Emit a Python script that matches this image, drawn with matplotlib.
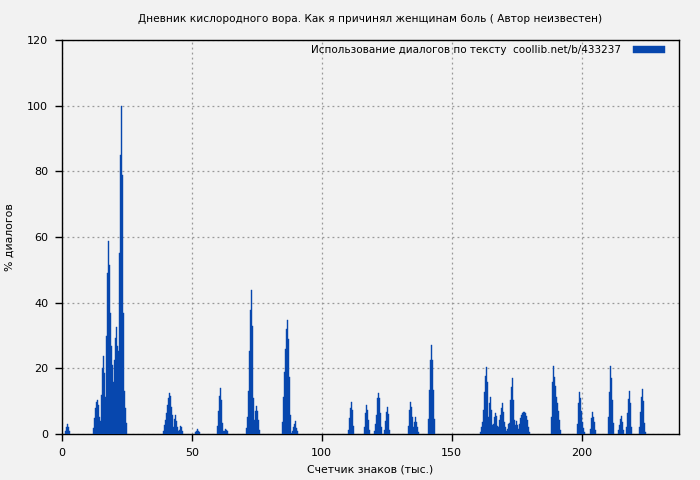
import numpy as np
import matplotlib
matplotlib.use("Agg")
import matplotlib.pyplot as plt

plt.rcParams['font.family'] = ['DejaVu Sans']

title = "Дневник кислородного вора. Как я причинял женщинам боль ( Автор неизвестен)"
legend_label = "Использование диалогов по тексту  coollib.net/b/433237"
x_label = "Счетчик знаков (тыс.)"
y_label = "% диалогов"

bin_step = 0.385  # thousand characters per bar

# cluster start positions (thousand chars) and bar heights (% of dialogues)
cluster_starts = [1.0, 11.9, 39.0, 51.2, 59.8, 71.0, 84.8, 109.9, 116.2, 120.0,
                  123.9, 133.0, 140.8, 160.9, 188.2, 198.1, 203.3, 210.2, 213.9,
                  217.0, 222.0]
cluster_heights = [
    [0.8, 2.0, 3.0, 2.2, 0.8],
    [1.7, 4.9, 7.9, 9.8, 10.3, 8.8, 5.3, 4.1, 11.9, 20, 23.7, 18.5, 11.4, 30, 49,
     58.8, 51.5, 37, 26.8, 21, 15.9, 22.5, 29.2, 32.7, 26.8, 25.3, 55, 85, 100,
     78.9, 36.8, 13.2, 7.9, 3.3],
    [1.0, 2.7, 4.3, 6.3, 8.8, 10.9, 12.6, 11.5, 8.3, 5.8, 2.2, 4.5, 5.8, 4.0, 2.0,
     0.8, 1.2, 2.4, 2.0, 1.0],
    [0.5, 1.0, 1.5, 1.0, 0.5],
    [2.5, 7.0, 11.6, 14.1, 10.3, 3.4, 1.0, 1.0, 1.6, 1.2, 0.8],
    [1.8, 5.3, 13.1, 25.3, 37.8, 43.9, 32.9, 11.1, 4.3, 7.0, 8.5, 7.0, 4.3, 1.2],
    [3.7, 11.4, 19, 25.8, 31.9, 34.7, 28.9, 17.5, 5.8, 0.4, 1.0, 2.0, 3.0, 4.0,
     1.9, 1.0],
    [1.3, 5.0, 7.8, 9.8, 7.3, 2.4],
    [2.2, 6.3, 8.8, 7.3, 4.3, 1.3],
    [1.0, 3.0, 5.8, 10.9, 12.4, 10.9, 6.3, 2.0],
    [1.3, 4.1, 6.8, 8.3, 6.1, 1.3],
    [2.4, 7.3, 9.8, 8.1, 5.1, 2.2, 3.6, 5.1, 3.8, 2.2, 0.7],
    [4.5, 13.4, 22.5, 27.1, 22.5, 13.4, 4.5],
    [0.7, 2.2, 3.7, 7.3, 12.9, 17.7, 20.5, 15.9, 5.3, 9.3, 11.4, 7.3, 2.7, 3.0,
     5.3, 6.5, 5.5, 2.4, 2.2, 4.3, 5.8, 7.8, 9.3, 6.8, 3.7, 2.0, 1.0, 1.5, 3.0,
     3.5, 10.4, 14.4, 17.0, 10.4, 4.3, 2.7, 4.0, 2.7, 1.6, 3.0, 4.8, 5.8, 6.3,
     6.7, 6.7, 6.3, 5.5, 4.2, 2.2, 0.7],
    [5.3, 15.9, 20.7, 17.5, 14.6, 11.4, 9.3, 7.1, 4.3, 1.2],
    [3.0, 9.5, 12.8, 10.9, 7.1, 3.7, 1.7, 0.5],
    [1.5, 4.8, 6.8, 5.3, 3.7, 1.2],
    [5.3, 12.9, 20.7, 17.0, 10.4, 3.4],
    [1.2, 2.7, 4.5, 5.5, 3.7, 1.2],
    [2.0, 6.5, 10.6, 13.1, 9.3, 2.2],
    [2.0, 6.8, 11.4, 13.6, 10.1, 3.4, 0.7],
]

x_ticks = [0, 50, 100, 150, 200]
y_ticks = [0, 20, 40, 60, 80, 100, 120]

bg = '#f2f2f2'
bar_color = '#0747ae'

fig = plt.figure(figsize=(7.0, 4.8), dpi=100, facecolor=bg)
ax = fig.add_axes([62 / 700, 46 / 480, 617 / 700, 394 / 480], facecolor=bg)

xs, hs = [], []
for start, heights in zip(cluster_starts, cluster_heights):
    for i, h in enumerate(heights):
        xs.append(start + i * bin_step)
        hs.append(h)

ax.bar(xs, hs, width=bin_step, align='edge', color=bar_color,
       edgecolor=bar_color, linewidth=0.3, label=legend_label, zorder=3)

ax.set_xlim(0, 237.5)
ax.set_ylim(0, 120)
ax.set_xticks(x_ticks)
ax.set_yticks(y_ticks)
ax.grid(True, color='#999999', linestyle=(0, (1.5, 2.5)), linewidth=0.9, zorder=0)
for s in ax.spines.values():
    s.set_color('black')
    s.set_linewidth(1.0)
ax.tick_params(axis='both', direction='out', length=5, width=1, labelsize=8,
               colors='black', pad=5)

ax.set_title(title, fontsize=7.6, pad=13)
ax.set_xlabel(x_label, fontsize=7.8, labelpad=5)
ax.set_ylabel(y_label, fontsize=7.8, labelpad=9)

leg = ax.legend(loc='upper right', bbox_to_anchor=(0.984, 0.997),
                markerfirst=False, frameon=False, fontsize=7.5,
                handlelength=3.1, handleheight=0.65, borderaxespad=0.0,
                handletextpad=1.1)

fig.savefig('out.png', dpi=100, facecolor=bg)
